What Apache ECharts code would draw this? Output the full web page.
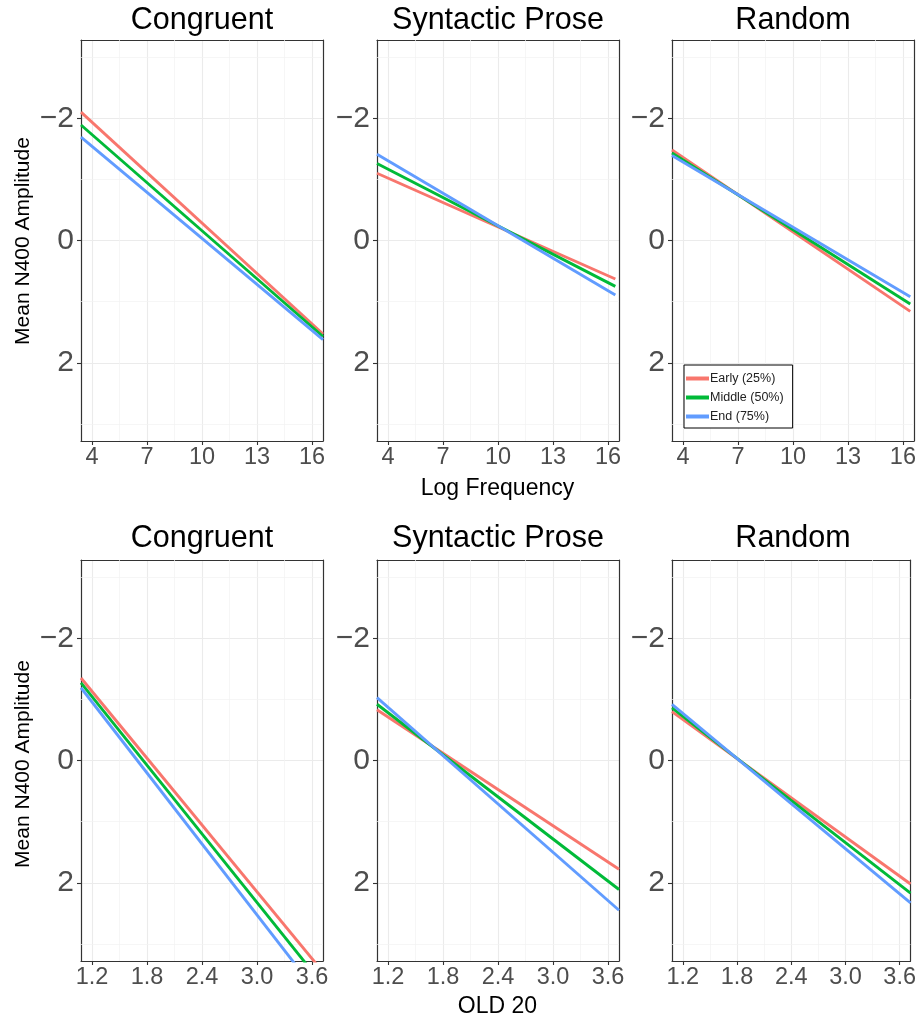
<!DOCTYPE html>
<html>
<head>
<meta charset="utf-8">
<script src="https://cdn.jsdelivr.net/npm/echarts@6/dist/echarts.min.js"></script>
<style>
html,body{margin:0;padding:0;background:#fff;}
#chart{width:919px;height:1019px;}
</style>
</head>
<body>
<div id="chart"></div>
<script>
// ---- data ----
const conditions = ['Congruent', 'Syntactic Prose', 'Random'];
const groups = ['Early (25%)', 'Middle (50%)', 'End (75%)'];
const groupColors = ['#F8766D', '#00BA38', '#619CFF'];

// Log Frequency panels: x endpoints and fitted line endpoints per condition
const freqX = [[3.4, 16.6], [3.4, 16.4], [3.4, 16.4]];
const freqEarly = [[-2.10, 1.53], [-1.10, 0.63], [-1.48, 1.16]];
const freqMiddle = [[-1.89, 1.57], [-1.26, 0.75], [-1.43, 1.04]];
const freqEnd = [[-1.69, 1.62], [-1.41, 0.89], [-1.39, 0.92]];

// OLD 20 panels
const oldX = [[1.08, 3.72], [1.08, 3.72], [1.08, 3.72]];
const oldEarly = [[-1.35, 3.46], [-0.83, 1.78], [-0.80, 2.02]];
const oldMiddle = [[-1.27, 3.67], [-0.92, 2.11], [-0.86, 2.17]];
const oldEnd = [[-1.19, 3.92], [-1.03, 2.45], [-0.92, 2.33]];

// axes / ticks
const yRange = [-3.28, 3.28];
const yTicks = [-2, 0, 2];
const yMinor = [-3, -1, 1, 3];
const freqRange = [3.4, 16.6];
const freqTicks = [4, 7, 10, 13, 16];
const freqMinor = [5.5, 8.5, 11.5, 14.5];
const oldRange = [1.08, 3.72];
const oldTicks = [1.2, 1.8, 2.4, 3.0, 3.6];
const oldMinor = [1.5, 2.1, 2.7, 3.3];

// ---- layout ----
const FONT = '"Liberation Sans", Arial, sans-serif';
const gridLefts = [81, 377, 672];
const gridWidth = 242;
const gridTops = [40, 560];
const gridHeight = 401;

const rows = [
  { x: freqX, series: [freqEarly, freqMiddle, freqEnd], range: freqRange, ticks: freqTicks, minor: freqMinor, fmt: v => String(v) },
  { x: oldX, series: [oldEarly, oldMiddle, oldEnd], range: oldRange, ticks: oldTicks, minor: oldMinor, fmt: v => Number(v).toFixed(1) }
];

const grid = [], xAxis = [], yAxis = [], series = [];
const xFrame = [], yFrame = [];
const majorLine = { show: true, lineStyle: { color: '#EBEBEB', width: 1.1 } };
const frameLine = { show: true, onZero: false, lineStyle: { color: '#333', width: 1.2 } };

rows.forEach((row, r) => {
  conditions.forEach((cond, c) => {
    const gi = r * 3 + c;
    grid.push({
      left: gridLefts[c], top: gridTops[r], width: gridWidth, height: gridHeight,
      show: true, borderWidth: 0, backgroundColor: '#fff', containLabel: false
    });
    xAxis.push({
      type: 'value', gridIndex: gi, position: 'bottom', min: row.range[0], max: row.range[1],
      axisLine: frameLine,
      axisTick: { show: true, length: 4, lineStyle: { color: '#333', width: 1.1 }, customValues: row.ticks },
      axisLabel: { show: true, customValues: row.ticks, formatter: row.fmt, color: '#4D4D4D', fontSize: 23.5, fontFamily: FONT, margin: 5 },
      minorTick: { show: false }, minorSplitLine: { show: false },
      splitLine: majorLine
    });
    yAxis.push({
      type: 'value', gridIndex: gi, position: 'left', min: yRange[0], max: yRange[1], inverse: true,
      axisLine: frameLine,
      axisTick: { show: true, length: 4, lineStyle: { color: '#333', width: 1.1 }, customValues: yTicks },
      axisLabel: { show: true, customValues: yTicks, formatter: v => (v < 0 ? '\u2212' + Math.abs(v) : String(v)), color: '#4D4D4D', fontSize: 30, fontFamily: FONT, margin: 7 },
      minorTick: { show: false }, minorSplitLine: { show: false },
      splitLine: majorLine
    });
    // opposite-side axes: frame only
    xFrame.push({
      type: 'value', gridIndex: gi, position: 'top', min: row.range[0], max: row.range[1],
      axisLine: frameLine, axisTick: { show: false }, axisLabel: { show: false },
      splitLine: { show: false }, minorTick: { show: false }, minorSplitLine: { show: false }
    });
    yFrame.push({
      type: 'value', gridIndex: gi, position: 'right', min: yRange[0], max: yRange[1], inverse: true,
      axisLine: frameLine, axisTick: { show: false }, axisLabel: { show: false },
      splitLine: { show: false }, minorTick: { show: false }, minorSplitLine: { show: false }
    });
    // minor grid lines (helper series with markLines only, drawn under data lines)
    series.push({
      type: 'line', xAxisIndex: gi, yAxisIndex: gi, data: [], silent: true, z: 1,
      markLine: {
        silent: true, z: 1, symbol: ['none', 'none'], label: { show: false }, animation: false,
        lineStyle: { color: '#F2F2F2', width: 0.7, type: 'solid' },
        emphasis: { disabled: true },
        data: row.minor.map(v => ({ xAxis: v })).concat(yMinor.map(v => ({ yAxis: v })))
      }
    });
    groups.forEach((g, k) => {
      const ys = row.series[k][c];
      series.push({
        type: 'line', name: g, xAxisIndex: gi, yAxisIndex: gi,
        data: row.x[c].map((x, i) => [x, ys[i]]),
        symbol: 'none', showSymbol: false, clip: true, silent: true,
        lineStyle: { width: 2.9, color: groupColors[k] },
        itemStyle: { color: groupColors[k] },
        z: 3 + k
      });
    });
  });
});

const graphic = [];
rows.forEach((row, r) => {
  conditions.forEach((cond, c) => {
    graphic.push({
      type: 'text', silent: true,
      style: {
        text: cond, x: gridLefts[c] + gridWidth / 2, y: r === 0 ? 21 : 539,
        textAlign: 'center', textVerticalAlign: 'middle',
        fontSize: 30.5, fontFamily: FONT, fill: '#000'
      }
    });
  });
});
graphic.push({ type: 'text', silent: true, style: { text: 'Log Frequency', x: 497.5, y: 489, textAlign: 'center', textVerticalAlign: 'middle', fontSize: 23, fontFamily: FONT, fill: '#000' } });
graphic.push({ type: 'text', silent: true, style: { text: 'OLD 20', x: 497.5, y: 1007, textAlign: 'center', textVerticalAlign: 'middle', fontSize: 23, fontFamily: FONT, fill: '#000' } });
[241, 764].forEach(cy => {
  graphic.push({
    type: 'text', silent: true, x: 23, y: cy, rotation: Math.PI / 2,
    style: { text: 'Mean N400 Amplitude', x: 0, y: 0, textAlign: 'center', textVerticalAlign: 'middle', fontSize: 21, fontFamily: FONT, fill: '#000' }
  });
});

const chart = echarts.init(document.getElementById('chart'), null, { renderer: 'canvas' });
chart.setOption({
  animation: false,
  backgroundColor: '#fff',
  grid: grid,
  xAxis: xAxis.concat(xFrame),
  yAxis: yAxis.concat(yFrame),
  legend: {
    data: groups, orient: 'vertical', left: 684, top: 365,
    icon: 'rect', itemWidth: 23, itemHeight: 4, itemGap: 6,
    padding: [7, 9, 5, 2],
    backgroundColor: '#fff', borderColor: '#000', borderWidth: 1, borderRadius: 0,
    textStyle: { fontSize: 12.5, fontFamily: FONT, color: '#222', padding: [0, 0, 0, -4] },
    selectedMode: false, z: 10
  },
  series: series,
  graphic: graphic
});
</script>
</body>
</html>
